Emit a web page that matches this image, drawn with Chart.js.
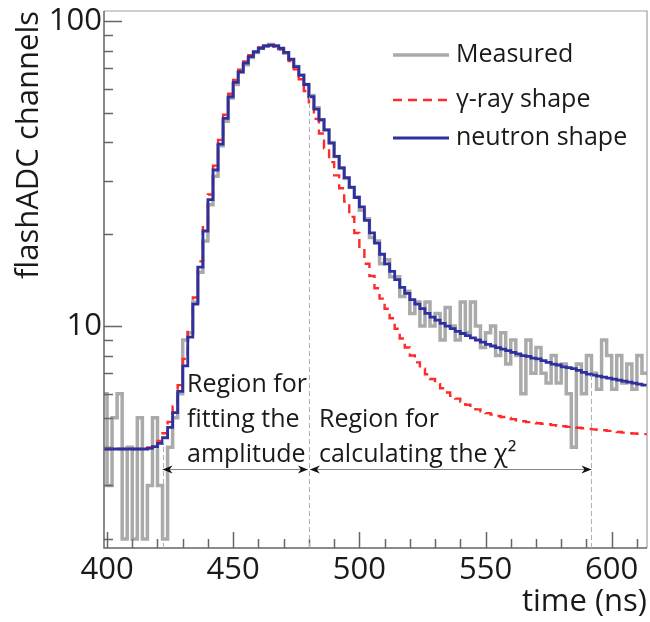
<!DOCTYPE html>
<html><head><meta charset="utf-8">
<script src="https://cdn.jsdelivr.net/npm/chart.js@4/dist/chart.umd.min.js"></script>
<style>html,body{margin:0;padding:0;background:#fff}#wrap{width:650px;height:622px}</style>
</head><body><div id="wrap"><canvas id="c"></canvas></div>
<script>
// ---- data ----
const binEdges = [398,400,402,404,406,408,410,412,414,416,418,420,422,424,426,428,430,432,434,436,438,440,442,444,446,448,450,452,454,456,458,460,462,464,466,468,470,472,474,476,478,480,482,484,486,488,490,492,494,496,498,500,502,504,506,508,510,512,514,516,518,520,522,524,526,528,530,532,534,536,538,540,542,544,546,548,550,552,554,556,558,560,562,564,566,568,570,572,574,576,578,580,582,584,586,588,590,592,594,596,598,600,602,604,606,608,610,612,614];
const measured = [6,3,5,6,2,4,2,5,2,3,5,3,2,4,5,6,9,9.5,12,15,19,25,31,39,47,56,62,68,72,76,79,81.5,83,83.8,83,81,78.5,75,71,66.5,62,57,52,47.5,44,40,36,33,30.5,28.5,26.5,24,22.5,19.5,19,16,16.5,14.5,14.5,12.5,13,11,12,10,12,10,11,9,11.5,10,9,12,9.5,12,10,8.5,9.5,10,8,9.5,7.5,9,8,6,9,7,8.5,7,6.5,8,6.5,7.5,6,4,7.5,6,8,7,6.2,9,8,6.2,8,6.5,7.5,6.2,8,7];
const gammaShape = [3.95,3.95,3.95,3.95,3.95,3.95,3.95,3.95,3.95,4.0,4.08,4.2,4.45,4.85,5.45,6.4,7.8,9.7,12.4,16.3,21.3,27.0,33.6,40.8,49.3,57.8,64.2,69.3,73.8,77.4,80.1,82.0,83.2,83.4,82.6,80.8,78.0,74.0,69.5,64.5,59.0,53.5,47.8,42.8,38.3,34.5,31.2,28.3,25.6,22.8,20.2,18.0,16.0,14.6,13.3,12.3,11.4,10.6,9.8,9.1,8.5,8.0,7.6,7.25,6.95,6.7,6.45,6.25,6.05,5.9,5.78,5.65,5.52,5.42,5.33,5.25,5.18,5.12,5.07,5.03,4.99,4.95,4.91,4.87,4.84,4.82,4.80,4.78,4.76,4.73,4.71,4.69,4.67,4.66,4.64,4.62,4.60,4.58,4.57,4.55,4.53,4.51,4.49,4.47,4.45,4.44,4.43,4.42];
const neutronShape = [3.95,3.95,3.95,3.95,3.95,3.95,3.95,3.95,3.95,3.97,4.02,4.12,4.3,4.65,5.2,6.1,7.4,9.2,11.8,15.6,20.5,26.0,32.5,39.5,48.0,56.5,63.0,68.2,72.8,76.5,79.4,81.5,82.9,83.4,83.0,81.5,79.0,75.0,71.0,66.5,62.0,56.5,51.5,47.5,44.0,39.8,36.0,33.0,30.7,28.5,26.4,24.6,22.2,20.2,18.7,17.2,16.0,15.1,14.2,13.4,12.8,12.2,11.8,11.4,11.0,10.7,10.45,10.2,10.0,9.8,9.6,9.45,9.3,9.15,9.0,8.85,8.7,8.6,8.5,8.4,8.3,8.2,8.1,8.0,7.95,7.85,7.8,7.7,7.6,7.5,7.45,7.35,7.3,7.25,7.15,7.05,6.95,6.9,6.85,6.8,6.75,6.7,6.65,6.6,6.55,6.5,6.45,6.4];
const seriesLabels = ['Measured', '\u03B3-ray shape', 'neutron shape'];
const xTicks = [400,410,420,430,440,450,460,470,480,490,500,510,520,530,540,550,560,570,580,590,600,610];
const xLabelTicks = [400,450,500,550,600];
const yTicks = [2,3,4,5,6,7,8,9,10,20,30,40,50,60,70,80,90,100];
const yLabelTicks = [10,100];
const regionBounds = [422, 480, 592];
const arrowLevel = 3.4;
const textLines = [
  {x: 431.7, y: 6.4, t: 'Region for'},
  {x: 431.7, y: 4.92, t: 'fitting the'},
  {x: 431.7, y: 3.78, t: 'amplitude'},
  {x: 484, y: 4.92, t: 'Region for'},
  {x: 484, y: 3.78, t: 'calculating the \u03C7\u00B2'}
];

function steps(vals){
  const pts = [];
  for (let i = 0; i < binEdges.length; i++) {
    pts.push({x: binEdges[i], y: vals[Math.min(i, vals.length - 1)]});
  }
  return pts;
}
function binValue(vals, x){
  for (let i = 0; i < binEdges.length - 1; i++) {
    if (x >= binEdges[i] && x < binEdges[i+1]) return vals[i];
  }
  return vals[vals.length-1];
}

const FONT = "'Open Sans', 'DejaVu Sans', sans-serif";
const colors = {measured: '#aaaaaa', gamma: '#ff2a2a', neutron: '#2e30a0'};

const decor = {
  id: 'decor',
  afterDatasetsDraw(chart) {
    const {ctx, chartArea: a, scales: {x, y}} = chart;
    ctx.save();
    // frame
    ctx.lineWidth = 1.2;
    ctx.strokeStyle = '#a0a0a0';
    ctx.beginPath();
    ctx.moveTo(a.left, a.top); ctx.lineTo(a.right, a.top); ctx.lineTo(a.right, a.bottom);
    ctx.stroke();
    ctx.strokeStyle = '#666';
    ctx.lineWidth = 1.5;
    ctx.beginPath();
    ctx.moveTo(a.left, a.top); ctx.lineTo(a.left, a.bottom); ctx.lineTo(a.right, a.bottom);
    ctx.stroke();
    // ticks (inward)
    ctx.strokeStyle = '#666';
    ctx.lineWidth = 1.5;
    ctx.beginPath();
    x.ticks.forEach(t => {
      const px = Math.round(x.getPixelForValue(t.value)) + 0.5;
      const len = xLabelTicks.includes(t.value) ? 16 : 9;
      ctx.moveTo(px, a.bottom); ctx.lineTo(px, a.bottom - len);
    });
    y.ticks.forEach(t => {
      const py = Math.round(y.getPixelForValue(t.value)) + 0.5;
      const len = yLabelTicks.includes(t.value) ? 18 : 9;
      ctx.moveTo(a.left, py); ctx.lineTo(a.left + len, py);
    });
    ctx.stroke();
    // dashed region bounds
    ctx.strokeStyle = '#b0b0b0';
    ctx.lineWidth = 1;
    ctx.setLineDash([5, 3]);
    regionBounds.forEach(b => {
      const px = Math.round(x.getPixelForValue(b)) + 0.5;
      const top = y.getPixelForValue(binValue(neutronShape, b));
      ctx.beginPath(); ctx.moveTo(px, a.bottom); ctx.lineTo(px, top); ctx.stroke();
    });
    ctx.setLineDash([]);
    // arrows
    const ay = Math.round(y.getPixelForValue(arrowLevel)) + 0.5;
    const b0 = x.getPixelForValue(regionBounds[0]);
    const b1 = x.getPixelForValue(regionBounds[1]);
    const b2 = x.getPixelForValue(regionBounds[2]);
    ctx.strokeStyle = '#888';
    ctx.lineWidth = 1;
    ctx.beginPath(); ctx.moveTo(b0, ay); ctx.lineTo(b1 - 1, ay); ctx.moveTo(b1 + 1, ay); ctx.lineTo(b2, ay); ctx.stroke();
    ctx.fillStyle = '#111';
    function head(tip, dir){
      ctx.beginPath();
      ctx.moveTo(tip, ay);
      ctx.lineTo(tip - dir*10, ay - 4);
      ctx.lineTo(tip - dir*7, ay);
      ctx.lineTo(tip - dir*10, ay + 4);
      ctx.closePath(); ctx.fill();
    }
    head(b0, -1); head(b1 - 1, 1); head(b1 + 1, -1); head(b2, 1);
    // region texts
    ctx.font = '25px ' + FONT;
    ctx.fillStyle = '#1a1a1a';
    ctx.textBaseline = 'middle';
    ctx.textAlign = 'left';
    textLines.forEach(l => {
      ctx.fillText(l.t, x.getPixelForValue(l.x), y.getPixelForValue(l.y));
    });
    // legend
    const ds = chart.data.datasets;
    const legY = [55, 100, 138];
    ds.forEach((d, i) => {
      const ly = legY[i];
      ctx.strokeStyle = d.borderColor;
      ctx.lineWidth = d.borderWidth;
      ctx.setLineDash(d.borderDash || []);
      ctx.beginPath(); ctx.moveTo(393, ly); ctx.lineTo(449, ly); ctx.stroke();
      ctx.setLineDash([]);
      ctx.fillStyle = '#1a1a1a';
      ctx.fillText(d.label, 456, ly);
    });
    ctx.restore();
  }
};

new Chart(document.getElementById('c'), {
  type: 'line',
  data: {
    datasets: [
      {label: seriesLabels[0], data: steps(measured), borderColor: colors.measured, borderWidth: 3.5, stepped: 'before', pointRadius: 0, order: 3},
      {label: seriesLabels[1], data: steps(gammaShape), borderColor: colors.gamma, borderWidth: 2.4, borderDash: [9, 6], stepped: 'before', pointRadius: 0, order: 2},
      {label: seriesLabels[2], data: steps(neutronShape), borderColor: colors.neutron, borderWidth: 2.8, stepped: 'before', pointRadius: 0, order: 1}
    ]
  },
  options: {
    responsive: true,
    maintainAspectRatio: false,
    animation: false,
    devicePixelRatio: 1,
    layout: {padding: {top: 11, right: 3, left: 0, bottom: 0}},
    plugins: {legend: {display: false}, tooltip: {enabled: false}},
    scales: {
      x: {
        type: 'linear', min: 398.8, max: 614,
        afterFit: s => { s.height = 74; s.paddingLeft = 0; s.paddingRight = 0; },
        afterBuildTicks: s => { s.ticks = xTicks.map(v => ({value: v})); },
        grid: {display: false, drawTicks: false},
        border: {display: false},
        ticks: {autoSkip: false, maxRotation: 0, padding: 4, color: '#1a1a1a', font: {family: FONT, size: 31},
          callback: v => xLabelTicks.includes(v) ? String(v) : ''},
        title: {display: true, text: 'time (ns)', align: 'end', color: '#1a1a1a', padding: {top: 0, bottom: 1}, font: {family: FONT, size: 31}}
      },
      y: {
        type: 'logarithmic', min: 1.87, max: 108,
        afterFit: s => { s.width = 104; s.paddingTop = 0; s.paddingBottom = 0; },
        afterBuildTicks: s => { s.ticks = yTicks.map(v => ({value: v})); },
        grid: {display: false, drawTicks: false},
        border: {display: false},
        ticks: {autoSkip: false, padding: 2, color: '#1a1a1a', font: {family: FONT, size: 31},
          callback: v => yLabelTicks.includes(v) ? String(v) : ''},
        title: {display: true, text: 'flashADC channels', align: 'end', color: '#1a1a1a', padding: {top: 11, bottom: 0}, font: {family: FONT, size: 31}}
      }
    }
  },
  plugins: [decor]
});
</script>
</body></html>
